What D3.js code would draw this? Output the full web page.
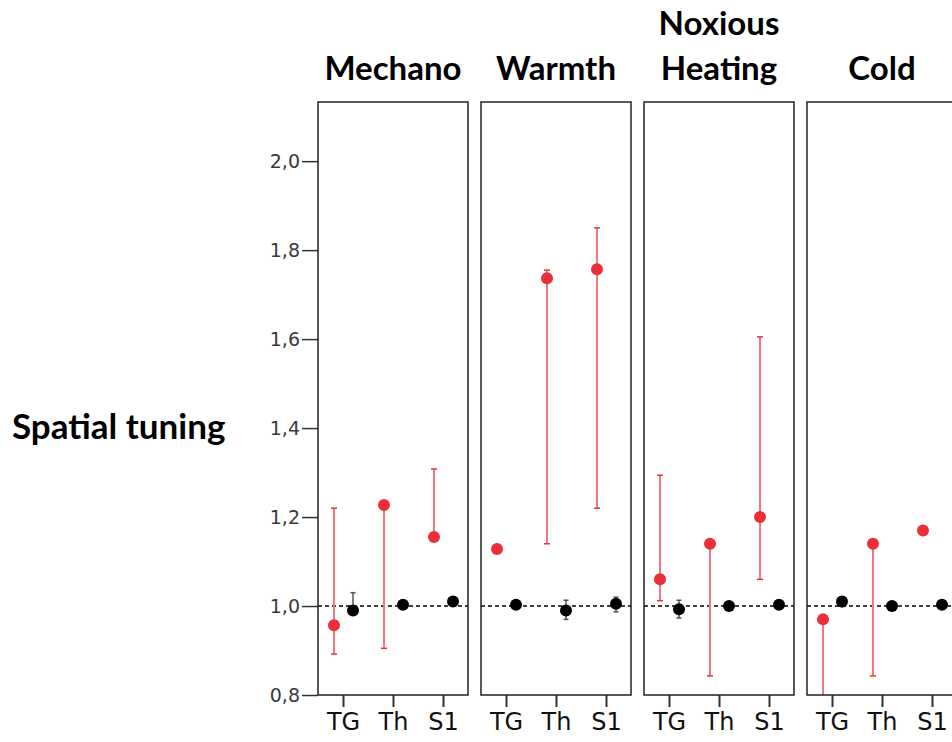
<!DOCTYPE html>
<html>
<head>
<meta charset="utf-8">
<script src="https://cdn.jsdelivr.net/npm/d3@7"></script>
<style>
  body { margin: 0; background: #fff; }
  .axis line, .axis path { stroke: #333; }
  .title { font-family: Lato, 'Open Sans', sans-serif; font-weight: bold; font-size: 33px; fill: #000; }
</style>
</head>
<body>
<div id="chart"></div>
<script>
// panel titles (multi-line split on |)
var panels = ['Mechano', 'Warmth', 'Noxious|Heating', 'Cold']
var regions = ['TG', 'Th', 'S1']
var yTicks = [0.8, 1.0, 1.2, 1.4, 1.6, 1.8, 2.0]

// red series: value, lower, upper per panel, per region
var redVal = [[0.957, 1.227, 1.155], [1.128, 1.737, 1.757], [1.06, 1.14, 1.2], [0.97, 1.14, 1.17]]
var redLo = [[0.892, 0.905, 1.155], [1.128, 1.14, 1.22], [1.012, 0.843, 1.06], [0.78, 0.843, 1.17]]
var redHi = [[1.22, 1.227, 1.308], [1.128, 1.755, 1.85], [1.294, 1.14, 1.605], [0.97, 1.14, 1.17]]

// black series
var blackVal = [[0.99, 1.003, 1.01], [1.003, 0.99, 1.005], [0.993, 1.0, 1.003], [1.01, 1.0, 1.003]]
var blackLo = [[0.985, 0.996, 1.003], [0.998, 0.97, 0.987], [0.973, 0.995, 0.998], [0.999, 0.995, 0.998]]
var blackHi = [[1.03, 1.01, 1.017], [1.008, 1.013, 1.02], [1.013, 1.005, 1.008], [1.02, 1.005, 1.008]]

var margin = { top: 102, left: 318, right: 0, bottom: 47 }
var width = 952
var height = 742
var panelW = 150
var panelGap = 13
var innerH = height - margin.top - margin.bottom

var svg = d3
  .select('#chart')
  .append('svg')
  .attr('width', width)
  .attr('height', height)

var yScale = d3.scaleLinear().domain([0.8, 2.133]).range([margin.top + innerH, margin.top])

var panelX = d3
  .scaleBand()
  .domain(panels)
  .range([margin.left, margin.left + panels.length * panelW + (panels.length - 1) * panelGap])
  .paddingInner(panelGap / (panelW + panelGap))

var xScale = d3.scalePoint().domain(regions).range([0, panelW]).padding(0.5)

// y axis
var yAxis = d3
  .axisLeft(yScale)
  .tickValues(yTicks)
  .tickSize(16)
  .tickPadding(2)
  .tickFormat(d => d3.format('.1f')(d).replace('.', ','))

svg
  .append('g')
  .attr('class', 'axis y-axis')
  .attr('transform', `translate(${margin.left},0)`)
  .call(yAxis)
  .call(g => g.select('.domain').remove())
  .call(g => g.selectAll('line').attr('stroke-width', 1.5))
  .selectAll('text')
  .attr('font-family', 'DejaVu Sans, Verdana, sans-serif')
  .attr('fill', '#3a3a3a')
  .attr('font-size', 19)

svg
  .append('text')
  .attr('class', 'title')
  .attr('x', 12)
  .attr('y', 439)
  .style('font-size', '35px')
  .text('Spatial tuning')

var redOff = -9
var blackOff = 10

panels.forEach(function(p, i) {
  var g = svg.append('g').attr('transform', `translate(${panelX(p)},0)`)

  // title
  var lines = p.split('|')
  g.append('text')
    .attr('class', 'title')
    .attr('text-anchor', 'middle')
    .attr('x', panelW / 2)
    .attr('y', 80 - (lines.length - 1) * 45)
    .selectAll('tspan')
    .data(lines)
    .enter()
    .append('tspan')
    .attr('x', panelW / 2)
    .attr('dy', (d, j) => (j === 0 ? 0 : 45))
    .text(d => d)

  // x axis
  g.append('g')
    .attr('class', 'axis x-axis')
    .attr('transform', `translate(0,${yScale(0.8)})`)
    .call(d3.axisBottom(xScale).tickSize(12).tickPadding(6))
    .call(ax => ax.select('.domain').remove())
    .call(ax => ax.selectAll('line').attr('stroke-width', 2))
    .selectAll('text')
    .attr('font-family', 'DejaVu Sans, Verdana, sans-serif')
    .attr('fill', '#111')
    .attr('font-size', 24)

  // reference line at 1.0
  g.append('line')
    .attr('x1', 0)
    .attr('x2', panelW)
    .attr('y1', yScale(1))
    .attr('y2', yScale(1))
    .attr('stroke', '#000')
    .attr('stroke-width', 1.5)
    .attr('stroke-dasharray', '4,3')

  var bars = g.append('g')

  regions.forEach(function(r, k) {
    // red error bars
    var cx = xScale(r) + redOff
    var lo = Math.max(redLo[i][k], 0.8)
    if (redHi[i][k] - redLo[i][k] > 0.001) {
      bars.append('line')
        .attr('x1', cx).attr('x2', cx)
        .attr('y1', yScale(lo)).attr('y2', yScale(redHi[i][k]))
        .attr('stroke', '#f27a7e').attr('stroke-width', 2)
      ;[redLo[i][k], redHi[i][k]].forEach(function(v) {
        if (v >= 0.8 && Math.abs(v - redVal[i][k]) > 0.005) {
          bars.append('line')
            .attr('x1', cx - 3).attr('x2', cx + 3)
            .attr('y1', yScale(v)).attr('y2', yScale(v))
            .attr('stroke', '#e8313a').attr('stroke-width', 1.5)
        }
      })
    }
    // black error bars
    var bx = xScale(r) + blackOff
    bars.append('line')
      .attr('x1', bx).attr('x2', bx)
      .attr('y1', yScale(blackLo[i][k])).attr('y2', yScale(blackHi[i][k]))
      .attr('stroke', '#555').attr('stroke-width', 1.5)
    ;[blackLo[i][k], blackHi[i][k]].forEach(function(v) {
      bars.append('line')
        .attr('x1', bx - 2.5).attr('x2', bx + 2.5)
        .attr('y1', yScale(v)).attr('y2', yScale(v))
        .attr('stroke', '#555').attr('stroke-width', 1.5)
    })
  })

  // dots
  g.selectAll('circle.red')
    .data(regions)
    .enter()
    .append('circle')
    .attr('class', 'red')
    .attr('cx', d => xScale(d) + redOff)
    .attr('cy', (d, k) => yScale(redVal[i][k]))
    .attr('r', 6)
    .attr('fill', '#ec2e38')

  g.selectAll('circle.black')
    .data(regions)
    .enter()
    .append('circle')
    .attr('class', 'black')
    .attr('cx', d => xScale(d) + blackOff)
    .attr('cy', (d, k) => yScale(blackVal[i][k]))
    .attr('r', 6)
    .attr('fill', '#000')

  // frame
  g.append('rect')
    .attr('x', 0)
    .attr('y', margin.top)
    .attr('width', panelW)
    .attr('height', innerH)
    .attr('fill', 'none')
    .attr('stroke', '#222')
    .attr('stroke-width', 1.5)
})
</script>
</body>
</html>
